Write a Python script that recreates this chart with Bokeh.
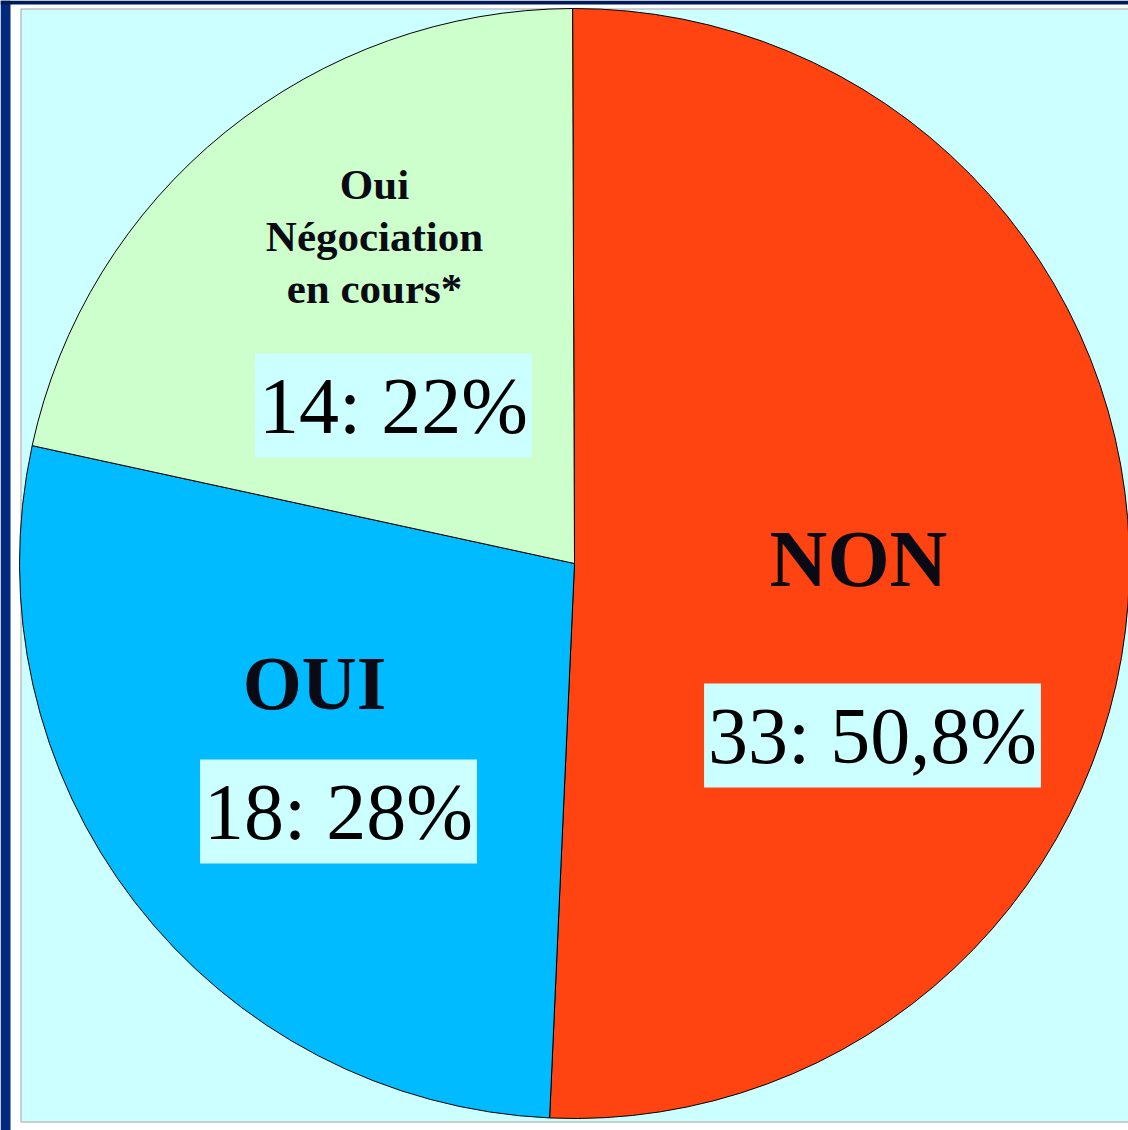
import math
from bokeh.plotting import figure
from bokeh.models import Range1d, ColumnDataSource
from bokeh.core.properties import value
from bokeh.embed import file_html
from bokeh.resources import INLINE

# ---- data ----
categories = ["NON", "OUI", "Oui\nNégociation\nen cours*"]
counts = [33, 18, 14]
percent_labels = ["33: 50,8%", "18: 28%", "14: 22%"]
colors = ["#FF4411", "#00BBFF", "#CCFFCC"]

# ---- layout (page pixels; y measured downward) ----
W, H = 1128, 1130
CX, CY, R = 574, 563, 555
START = -0.2  # degrees clockwise from 12 o'clock
name_off = [(284, -5), (-260, 119), (-200, -327)]
name_size = ["80px", "76px", "43px"]
val_off = [(298, 172), (-236, 248), (-181, -158)]

total = sum(counts)
starts, ends = [], []
acc = START
for c in counts:
    span = 360.0 * c / total
    starts.append(math.radians(90 - acc))
    ends.append(math.radians(90 - acc - span))
    acc += span

p = figure(width=W, height=H, output_backend="svg", toolbar_location=None,
           x_range=Range1d(0, W), y_range=Range1d(-H, 0),
           min_border_left=0, min_border_right=0, min_border_top=0, min_border_bottom=0)
p.axis.visible = False
p.grid.visible = False
p.background_fill_color = "white"
p.border_fill_color = "white"
p.outline_line_color = None

# slide frame decoration
p.quad(left=[0], right=[10], top=[0], bottom=[-H], fill_color="#00297F", line_color=None)
p.quad(left=[0], right=[W], top=[0], bottom=[-4], fill_color="#001B56", line_color=None)
p.quad(left=[20.5], right=[W + 20], top=[-8.5], bottom=[-1121.5],
       fill_color="#CCFFFF", line_color="#C0C0C0", line_width=1.5)

src = ColumnDataSource(dict(start=starts, end=ends, color=colors, cat=categories))
p.wedge(x=CX, y=-CY, radius=R, start_angle="start", end_angle="end", direction="clock",
        fill_color="color", line_color="black", line_width=1, source=src)

for i, cat in enumerate(categories):
    dx, dy = name_off[i]
    p.text(x=[CX + dx], y=[-(CY + dy)], text=[cat], text_font=value("Liberation Serif"),
           text_font_style="bold", text_font_size=name_size[i], text_color="#0a0a14",
           text_align="center", text_baseline="middle", text_line_height=1.1)
    vx, vy = val_off[i]
    p.text(x=[CX + vx], y=[-(CY + vy)], text=[percent_labels[i]], text_font=value("Liberation Serif"),
           text_font_size="80px", text_color="black", text_align="center",
           text_baseline="middle", background_fill_color="#CCFFFF",
           padding=dict(left=4, right=4, top=8, bottom=8))

open("out.html", "w").write(file_html(p, INLINE))
